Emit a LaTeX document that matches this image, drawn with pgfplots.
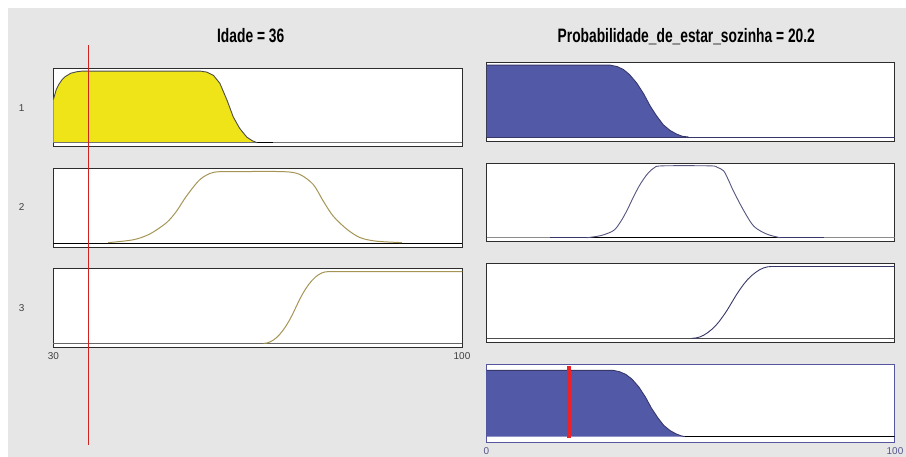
\documentclass[border=0pt]{standalone}
\usepackage{fontspec}
\setmainfont{Liberation Sans}
\usepackage{graphicx}
\usepackage{pgfplots}
\pgfplotsset{compat=1.18}
\usepackage{pgfplotstable}

\definecolor{bggray}{RGB}{230,230,230}
\definecolor{mfyellow}{RGB}{238,228,24}
\definecolor{mfblue}{RGB}{82,90,168}
\definecolor{olivec}{RGB}{165,150,85}
\definecolor{navy}{RGB}{55,55,105}
\definecolor{redline}{RGB}{205,35,35}
\definecolor{redbar}{RGB}{235,35,40}
\definecolor{framegray}{RGB}{45,45,45}
\definecolor{frameblue}{RGB}{85,85,160}
\definecolor{tickblue}{RGB}{85,85,140}

% Input Idade, MF 1
\pgfplotstableread{
x y
30 0.6
30.5 0.74
31 0.82
31.5 0.88
32 0.92
33 0.97
34 0.99
35 1
55.1 1
56.3 0.985
57.4 0.94
58.5 0.83
59.7 0.6
60.8 0.36
61.9 0.2
63.1 0.08
64.0 0.03
64.9 0
}\inA
% Input Idade, MF 2
\pgfplotstableread{
x y
39.4 0.01
43.7 0.05
46.5 0.13
49.4 0.29
51.1 0.45
52.8 0.66
55.1 0.89
57.4 0.99
60.8 1
69.4 1
72.2 0.96
74.5 0.82
76.2 0.59
77.9 0.38
80.2 0.20
82.5 0.08
85.3 0.03
89.7 0.01
}\inB
% Input Idade, MF 3
\pgfplotstableread{
x y
66.0 0
66.55 0.005
67.1 0.02
67.65 0.045
68.2 0.08
68.75 0.125
69.3 0.18
69.85 0.245
70.4 0.32
70.95 0.405
71.5 0.5
72.05 0.595
72.6 0.68
73.15 0.755
73.7 0.82
74.25 0.875
74.8 0.92
75.35 0.955
75.9 0.98
76.45 0.995
77.0 1
100 1
}\inC
% Output, MF 1
\pgfplotstableread{
x y
0 1
30.3 1
32 0.98
33.5 0.94
35 0.87
36.8 0.75
38.5 0.6
40.1 0.43
41.7 0.29
43.3 0.17
45 0.09
46.6 0.04
48 0.01
49.5 0
}\outA
% Output, MF 2
\pgfplotstableread{
x y
24.5 0
28 0.03
31.1 0.10
32.8 0.22
34.4 0.38
36 0.57
37.6 0.74
39.3 0.88
41 0.97
43 1
54.8 1
56.5 0.98
58.1 0.93
59.3 0.8
60.5 0.65
63 0.38
65.5 0.16
68.7 0.05
72 0
}\outB
% Output, MF 3
\pgfplotstableread{
x y
50.3 0
51.3 0.005
52.3 0.02
53.25 0.045
54.2 0.08
55.2 0.125
56.2 0.18
57.15 0.245
58.1 0.32
59.1 0.405
60.1 0.5
61.1 0.595
62.1 0.68
63.05 0.755
64.0 0.82
65.0 0.875
66.0 0.92
66.95 0.955
67.9 0.98
68.9 0.995
69.9 1
100 1
}\outC
% Aggregated output
\pgfplotstableread{
x y
0 1
31.1 1
32.6 0.98
34.1 0.94
35.6 0.87
37.3 0.75
38.9 0.6
40.4 0.43
41.9 0.29
43.4 0.17
45 0.09
46.5 0.04
47.8 0.01
48.7 0
}\outAgg

\pgfplotsset{
  panel/.style={scale only axis, anchor=south west,
    xtick=\empty, ytick=\empty,
    axis background/.style={fill=white},
    axis line style={draw=framegray, line width=0.9bp},
    ymin=-0.055, ymax=1.04},
  leftp/.style={panel, width=409bp, height=78.5bp, xmin=30, xmax=100},
  rightp/.style={panel, width=407.8bp, height=78.7bp, xmin=0, xmax=100},
}

\begin{document}
\begin{tikzpicture}[x=1bp,y=1bp]
\fill[white] (0,0) rectangle (906,457);
\fill[bggray] (8,0) rectangle (906,449);

% ---------- left column: Idade ----------
\begin{axis}[leftp, at={(53.3bp,310.3bp)}]
\addplot[draw=none, fill=mfyellow] table {\inA} \closedcycle;
\addplot[black!55, line width=0.9bp] coordinates {(30,0) (100,0)};
\addplot[black, line width=1.2bp] coordinates {(64.9,0) (67.6,0)};
\addplot[black!70, line width=0.9bp] table {\inA};
\end{axis}

\begin{axis}[leftp, at={(53.3bp,209.7bp)}]
\addplot[black, line width=1.5bp] coordinates {(30,0) (100,0)};
\addplot[olivec, line width=1bp, smooth] table {\inB};
\end{axis}

\begin{axis}[leftp, at={(53.3bp,109.7bp)}, clip=false]
\addplot[black!60, line width=0.9bp] coordinates {(30,0) (100,0)};
\addplot[olivec, line width=1bp] table {\inC};
\addplot[redline, line width=0.9bp] coordinates {(36,-1.42) (36,4.167)};
\end{axis}

% ---------- right column: output ----------
\begin{axis}[rightp, at={(486.7bp,316bp)}]
\addplot[draw=none, fill=mfblue] table {\outA} \closedcycle;
\addplot[navy, line width=0.9bp] coordinates {(0,0) (100,0)};
\addplot[navy, line width=0.9bp] table {\outA};
\end{axis}

\begin{axis}[rightp, at={(486.7bp,215.3bp)}]
\addplot[black!45, line width=0.7bp] coordinates {(0,0) (100,0)};
\addplot[navy, line width=0.9bp] coordinates {(15.5,0) (82.6,0)};
\addplot[black, line width=1.5bp] coordinates {(24.5,0) (72,0)};
\addplot[navy!85!white, line width=0.9bp, smooth] table {\outB};
\end{axis}

\begin{axis}[rightp, at={(486.7bp,114.7bp)}]
\addplot[black!70, line width=0.9bp] coordinates {(0,0) (100,0)};
\addplot[navy, line width=0.9bp] table {\outC};
\end{axis}

\begin{axis}[rightp, at={(486.7bp,14.3bp)}, ymin=-0.091, ymax=1.097,
  axis line style={draw=frameblue, line width=0.9bp}]
\addplot[draw=none, fill=mfblue] table {\outAgg} \closedcycle;
\addplot[navy, line width=0.9bp] table {\outAgg};
\addplot[black, line width=1.5bp] coordinates {(48.7,0) (100,0)};
\addplot[redbar, line width=4bp] coordinates {(20.2,-0.024) (20.2,1.06)};
\end{axis}

% ---------- titles and labels ----------
\node[anchor=base, inner sep=0pt] at (250.7,414.7)
  {\scalebox{0.71}[1]{\fontsize{19.5}{20}\selectfont\bfseries Idade = 36}};
\node[anchor=base, inner sep=0pt] at (686.3,414.7)
  {\scalebox{0.71}[1]{\fontsize{19.5}{20}\selectfont\bfseries Probabilidade\_de\_estar\_sozinha = 20.2}};

\begin{scope}[every node/.style={inner sep=0pt, font=\fontsize{10}{11}\selectfont, text=black!75}]
\node at (21.7,349) {1};
\node at (21.7,250.3) {2};
\node at (21.7,149) {3};
\node[anchor=base] at (53.3,97) {30};
\node[anchor=base] at (462,97) {100};
\node[anchor=base, text=tickblue] at (486.3,2) {0};
\node[anchor=base, text=tickblue] at (895,2) {100};
\end{scope}
\end{tikzpicture}
\end{document}
